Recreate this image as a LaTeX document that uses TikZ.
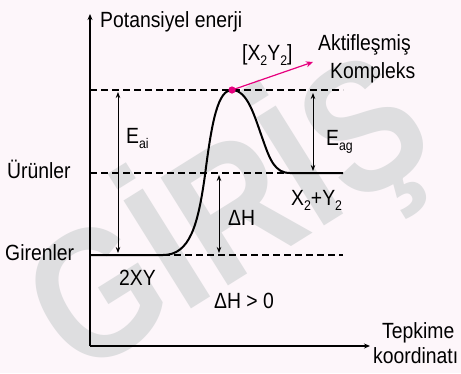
\documentclass[tikz,border=0pt]{standalone}
\usepackage{fontspec}
\setmainfont{Liberation Sans}[FakeStretch=0.88]
\newfontfamily\wmfont{Liberation Sans}[FakeStretch=0.85]
\usetikzlibrary{arrows.meta}
\definecolor{bgpink}{RGB}{253,246,250}
\definecolor{mag}{RGB}{230,0,126}
\definecolor{wm}{RGB}{222,222,224}
\newcommand\mysub[1]{\raisebox{-0.5ex}{\fontsize{14}{14}\selectfont #1}}
\tikzset{
  lbl/.style={inner sep=0pt, font=\fontsize{22}{22}\selectfont},
  axis/.style={line width=1.4pt, -{Stealth[length=6pt,width=5pt]}},
  guide/.style={line width=1.1pt, dash pattern=on 7pt off 4pt},
  dim/.style={line width=0.8pt, {Stealth[length=6pt,width=4.5pt]}-{Stealth[length=6pt,width=4.5pt]}},
  curve/.style={line width=2pt}
}
\begin{document}
\begin{tikzpicture}[x=1pt,y=-1pt]
\fill[bgpink] (0,0) rectangle (461,373);
\useasboundingbox (0,0) rectangle (461,373);
% watermark
\begin{scope}
\clip (0,0) rectangle (461,373);
\node[text=wm, rotate=32, inner sep=0pt, font=\wmfont\bfseries\fontsize{185}{185}\selectfont] (wmark) at (228,215) {GİRİŞ};
\end{scope}
% coordinates
\coordinate (O) at (90,346);
\coordinate (ytop) at (90,14);
\coordinate (xend) at (370,346);
\coordinate (peak) at (232,90);
\coordinate (pink) at (313,62);
% guides
\draw[guide] (90,90) -- (343,90);
\draw[guide] (90,173) -- (285,173);
\draw[guide] (163,255) -- (343,255);
% axes
\draw[axis] (O) -- (ytop);
\draw[axis] (O) -- (xend);
% curve
\draw[curve] (90,255) -- (163,255) .. controls (190,255) and (198,225) .. (205,175)
  .. controls (212,120) and (218,90) .. (peak)
  .. controls (248,90) and (255,118) .. (263,140)
  .. controls (270,160) and (275,173) .. (290,173) -- (343,173);
% dimension arrows
\coordinate (eaiT) at (118,92);
\coordinate (eaiB) at (118,253);
\draw[dim] (eaiT) -- (eaiB);
\coordinate (dhT) at (219,175);
\coordinate (dhB) at (219,253);
\draw[dim] (dhT) -- (dhB);
\coordinate (eagT) at (313,93);
\coordinate (eagB) at (313,171);
\draw[dim] (eagT) -- (eagB);
% pink
\draw[mag, line width=1.2pt, -{Stealth[length=7pt,width=6pt]}] (peak) -- (pink);
\fill[mag] (peak) circle (3.6pt);
% labels
\node[lbl, anchor=base west] (pot) at (100,27) {Potansiyel enerji};
\node[lbl, anchor=base west] (x2y2) at (242,60) {[X\mysub{2}Y\mysub{2}]};
\node[lbl, anchor=base west] (akt) at (318,50) {Aktifleşmiş};
\node[lbl, anchor=base west] (komp) at (330,78) {Kompleks};
\node[lbl, anchor=base west] (eai) at (126,143) {E\mysub{ai}};
\node[lbl, anchor=base west] (eag) at (326,145) {E\mysub{ag}};
\node[lbl, anchor=base west] (urun) at (7,178) {Ürünler};
\node[lbl, anchor=base west] (gir) at (5,260) {Girenler};
\node[lbl, anchor=base west] (x2py2) at (291,205) {X\mysub{2}+Y\mysub{2}};
\node[lbl, anchor=base west] (dh) at (228,225) {ΔH};
\node[lbl, anchor=base west] (xy) at (119,285) {2XY};
\node[lbl, anchor=base west] (dhg) at (214,308) {ΔH > 0};
\node[lbl, anchor=base west] (tep) at (382,338) {Tepkime};
\node[lbl, anchor=base west] (koord) at (373,363) {koordinatı};
\end{tikzpicture}
\end{document}
